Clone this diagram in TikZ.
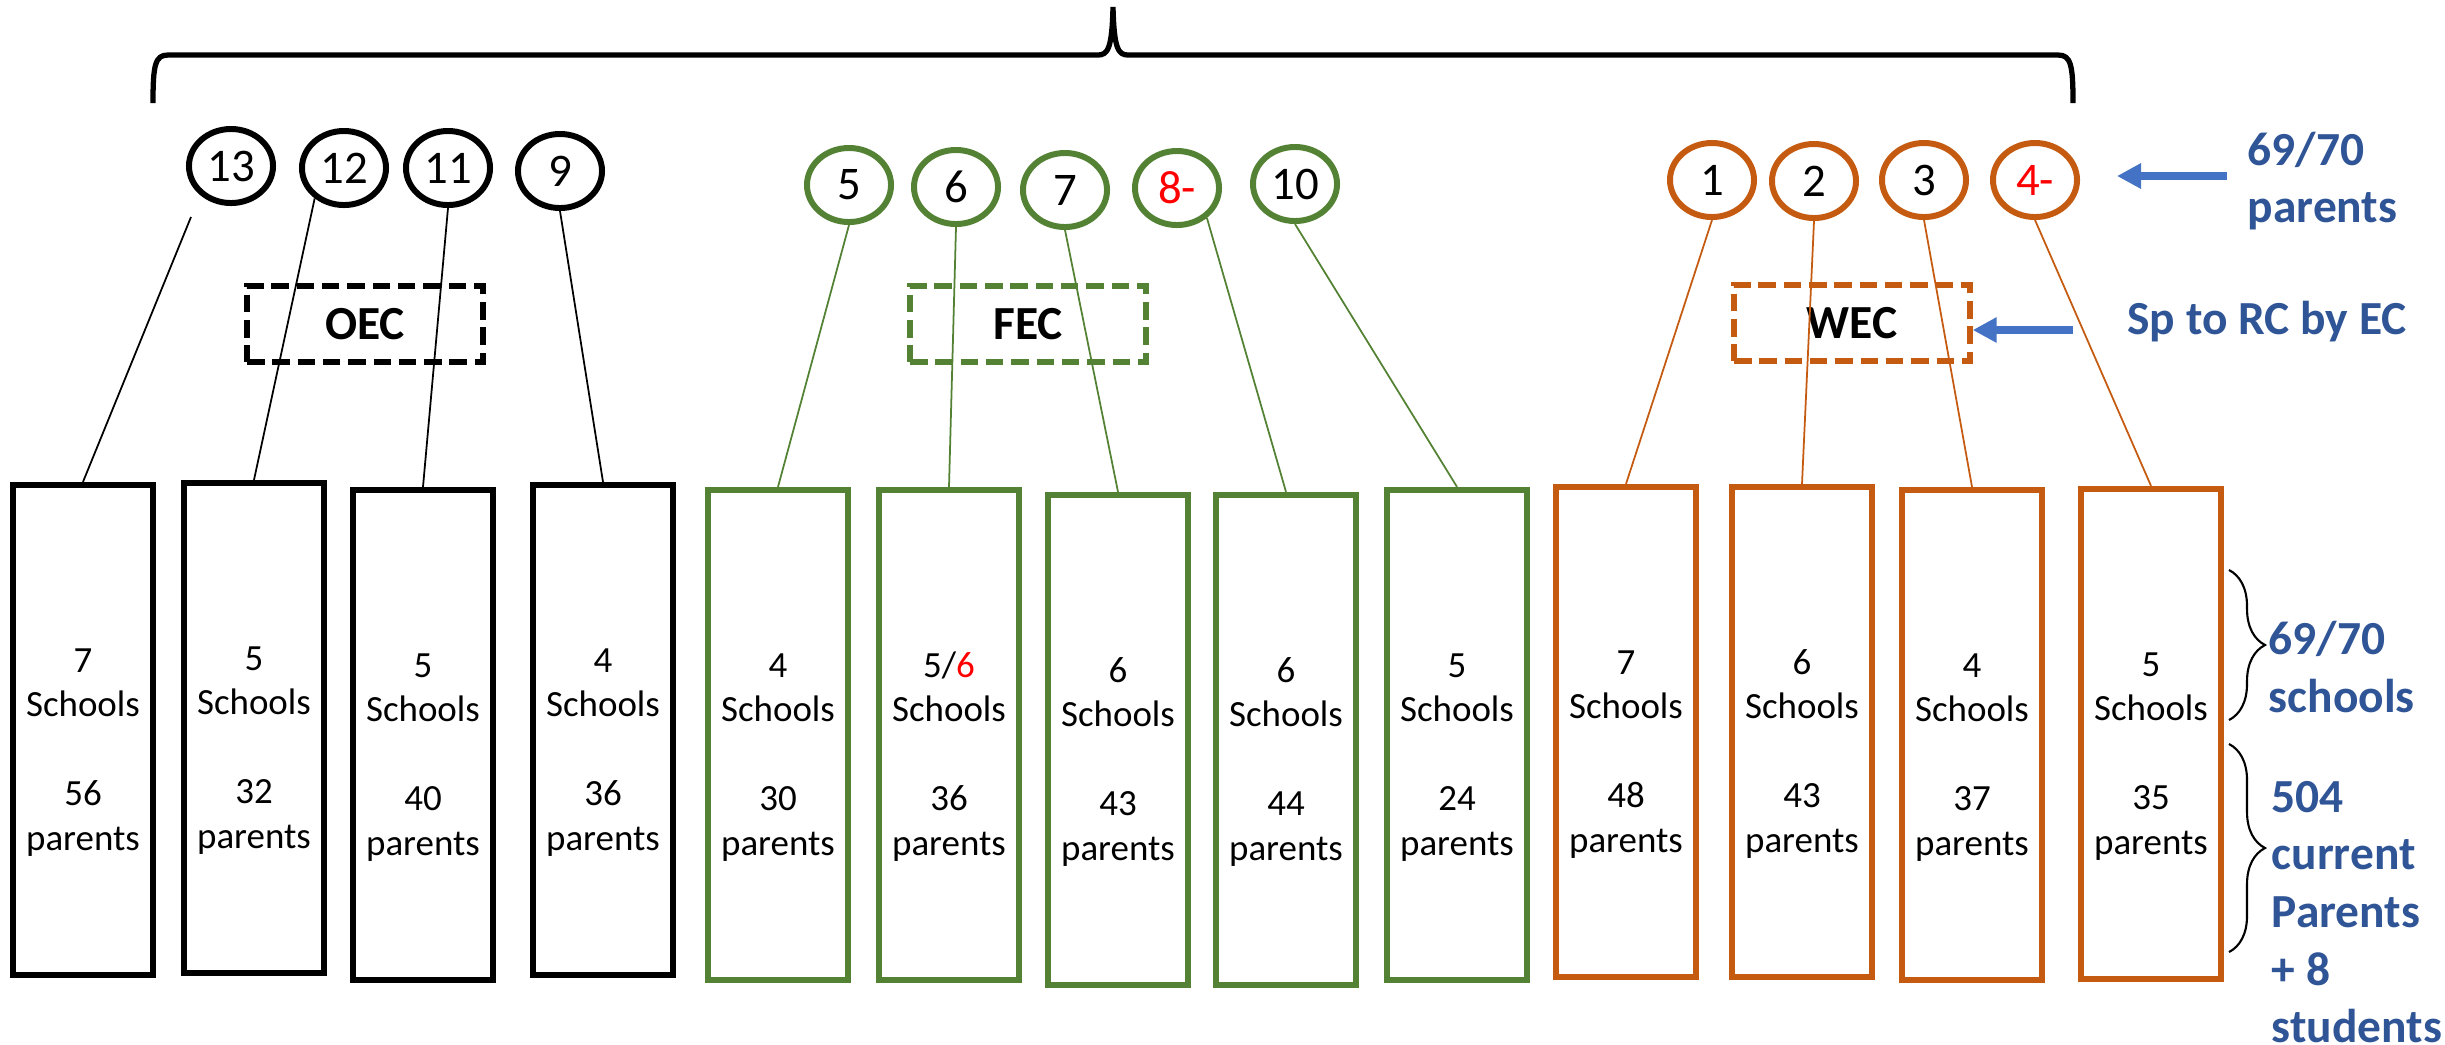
\documentclass[tikz,border=0pt]{standalone}
\usepackage{fontspec}
\setmainfont{Carlito}
\usetikzlibrary{arrows.meta,shapes.geometric,decorations.pathreplacing}
\definecolor{ecgreen}{HTML}{548235}
\definecolor{ecorange}{HTML}{C55A11}
\definecolor{arrowblue}{HTML}{4472C4}
\definecolor{labelblue}{HTML}{2F5597}
\definecolor{ecred}{HTML}{FF0000}

\begin{document}
\begin{tikzpicture}
[x=0.01cm, y=-0.01cm,
ecnode/.style={ellipse, draw=#1, line width=1.7pt, minimum width=0.84cm, minimum height=0.74cm, inner sep=0pt, font=\fontsize{13.3}{16}\selectfont},
schoolbox/.style={rectangle, draw=#1, line width=1.7pt, minimum width=1.40cm, minimum height=4.90cm, inner sep=0pt, align=center, font=\fontsize{10.5}{12.66}\selectfont},
ecbox/.style={rectangle, draw=#1, line width=1.5pt, dash pattern=on 5pt off 2.2pt, minimum width=2.36cm, minimum height=0.76cm, font=\bfseries\fontsize{13.5}{16}\selectfont},
connect/.style={draw=#1, line width=0.5pt},
bluearrow/.style={-{Triangle[length=0.24cm, width=0.24cm]}, draw=arrowblue, fill=arrowblue, line width=0.08cm},
bluelabel/.style={text=labelblue, font=\bfseries\fontsize{13.5}{16.4}\selectfont, align=left, inner sep=0pt},
smallbrace/.style={decorate, decoration={brace, amplitude=0.36cm}, line width=0.6pt}]
\useasboundingbox (0,0) rectangle (2445,1044);

% top brace
\draw[line width=1.5pt] (153,103) .. controls (153,65) and (155,55) .. (168,55) -- (1098,55) .. controls (1108,55) and (1112,48) .. (1113,7) .. controls (1114,48) and (1118,55) .. (1128,55) -- (2058,55) .. controls (2071,55) and (2073,65) .. (2073,103);

\node[ecnode=black]	(c13) at (231, 166) {13};
\node[ecnode=black]	(c12) at (344, 168) {12};
\node[ecnode=black]	(c11) at (448, 168) {11};
\node[ecnode=black]	(c9) at (560, 171) {9};
\node[ecnode=ecgreen]	(c5) at (849, 185) {5};
\node[ecnode=ecgreen]	(c6) at (956, 187) {6};
\node[ecnode=ecgreen]	(c7) at (1065, 190) {7};
\node[ecnode=ecgreen, text=ecred]	(c8) at (1177, 188) {8-};
\node[ecnode=ecgreen]	(c10) at (1295, 184) {10};
\node[ecnode=ecorange]	(c1) at (1712, 180) {1};
\node[ecnode=ecorange]	(c2) at (1814, 181) {2};
\node[ecnode=ecorange]	(c3) at (1924, 180) {3};
\node[ecnode=ecorange, text=ecred]	(c4) at (2035, 180) {4-};
\coordinate (c13foot) at (191, 217);

\node[ecbox=black]	(oec) at (365, 324) {OEC};
\node[ecbox=ecgreen]	(fec) at (1028, 324) {FEC};
\node[ecbox=ecorange]	(wec) at (1852, 323) {WEC};

\node[schoolbox=black]	(b1) at (83, 730) {\strut\\7\\Schools\\\strut\\56\\parents\strut};
\node[schoolbox=black]	(b2) at (254, 728) {\strut\\5\\Schools\\\strut\\32\\parents\strut};
\node[schoolbox=black]	(b3) at (423, 735) {\strut\\5\\Schools\\\strut\\40\\parents\strut};
\node[schoolbox=black]	(b4) at (603, 730) {\strut\\4\\Schools\\\strut\\36\\parents\strut};
\node[schoolbox=ecgreen]	(g1) at (778, 735) {\strut\\4\\Schools\\\strut\\30\\parents\strut};
\node[schoolbox=ecgreen]	(g2) at (949, 735) {\strut\\5/\textcolor{ecred}{6}\\Schools\\\strut\\36\\parents\strut};
\node[schoolbox=ecgreen]	(g3) at (1118, 740) {\strut\\6\\Schools\\\strut\\43\\parents\strut};
\node[schoolbox=ecgreen]	(g4) at (1286, 740) {\strut\\6\\Schools\\\strut\\44\\parents\strut};
\node[schoolbox=ecgreen]	(g5) at (1457, 735) {\strut\\5\\Schools\\\strut\\24\\parents\strut};
\node[schoolbox=ecorange]	(o1) at (1626, 732) {\strut\\7\\Schools\\\strut\\48\\parents\strut};
\node[schoolbox=ecorange]	(o2) at (1802, 732) {\strut\\6\\Schools\\\strut\\43\\parents\strut};
\node[schoolbox=ecorange]	(o3) at (1972, 735) {\strut\\4\\Schools\\\strut\\37\\parents\strut};
\node[schoolbox=ecorange]	(o4) at (2151, 734) {\strut\\5\\Schools\\\strut\\35\\parents\strut};

\draw[connect=black] (c13foot) -- (b1.north);
\draw[connect=black] (c12.-134) -- (b2.north);
\draw[connect=black] (c11.south) -- (b3.north);
\draw[connect=black] (c9.south) -- (b4.north);
\draw[connect=ecgreen] (c5.south) -- (g1.north);
\draw[connect=ecgreen] (c6.south) -- (g2.north);
\draw[connect=ecgreen] (c7.south) -- (g3.north);
\draw[connect=ecgreen] (c8.-45) -- (g4.north);
\draw[connect=ecgreen] (c10.south) -- (g5.north);
\draw[connect=ecorange] (c1.south) -- (o1.north);
\draw[connect=ecorange] (c2.south) -- (o2.north);
\draw[connect=ecorange] (c3.south) -- (o3.north);
\draw[connect=ecorange] (c4.south) -- (o4.north);

% labels on the right
\node[bluelabel, anchor=west]	(parentslbl) at (2247, 181) {69/70\\parents};
\node[bluelabel]	(splbl) at (2267, 322) {Sp to RC by EC};
\node[bluelabel, anchor=west]	(schoolslbl) at (2268, 667) {69/70\\schools};
\node[bluelabel, anchor=west]	(currentlbl) at (2271, 912) {504\\current\\Parents\\+ 8\\students};
\coordinate (arrow1start) at (2227, 176);
\coordinate (arrow1tip) at (2117, 176);
\coordinate (arrow2start) at (2073, 330);
\draw[bluearrow] (arrow1start) -- (arrow1tip);
\draw[bluearrow] (arrow2start) -- (wec.east |- arrow2start);
\draw[smallbrace] (2229, 570) -- (2229, 720);
\draw[smallbrace] (2229, 744) -- (2229, 952);

\end{tikzpicture}
\end{document}
